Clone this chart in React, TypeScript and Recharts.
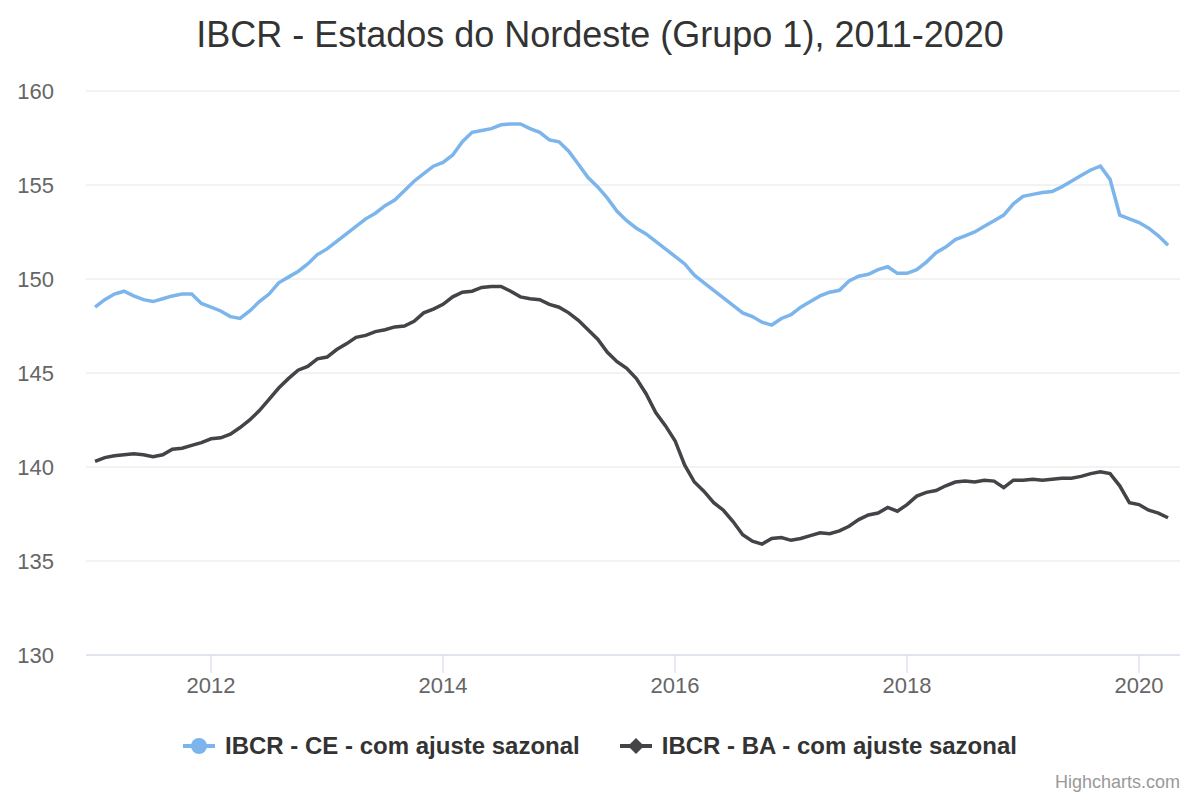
import { LineChart, Line, XAxis, YAxis, CartesianGrid } from 'recharts';

const ce = [
  148.5, 148.9, 149.2, 149.35, 149.1, 148.9, 148.8, 148.95, 149.1, 149.2, 149.2, 148.7,
  148.5, 148.3, 148.0, 147.9, 148.3, 148.8, 149.2, 149.8, 150.1, 150.4, 150.8, 151.3,
  151.6, 152.0, 152.4, 152.8, 153.2, 153.5, 153.9, 154.2, 154.7, 155.2, 155.6, 156.0,
  156.2, 156.6, 157.3, 157.8, 157.9, 158.0, 158.2, 158.25, 158.25, 158.0, 157.8, 157.4,
  157.3, 156.8, 156.1, 155.4, 154.9, 154.3, 153.6, 153.1, 152.7, 152.4, 152.0, 151.6,
  151.2, 150.8, 150.2, 149.8, 149.4, 149.0, 148.6, 148.2, 148.0, 147.7, 147.55, 147.9,
  148.1, 148.5, 148.8, 149.1, 149.3, 149.4, 149.9, 150.15, 150.25, 150.5, 150.65, 150.3,
  150.3, 150.5, 150.9, 151.4, 151.7, 152.1, 152.3, 152.5, 152.8, 153.1, 153.4, 154.0,
  154.4, 154.5, 154.6, 154.65, 154.9, 155.2, 155.5, 155.8, 156.0, 155.3, 153.4, 153.2,
  153.0, 152.7, 152.3, 151.8,
];

const ba = [
  140.3, 140.5, 140.6, 140.65, 140.7, 140.65, 140.55, 140.65, 140.95, 141.0, 141.15, 141.3,
  141.5, 141.55, 141.75, 142.1, 142.5, 143.0, 143.6, 144.2, 144.7, 145.15, 145.35, 145.75,
  145.85, 146.25, 146.55, 146.9, 147.0, 147.2, 147.3, 147.45, 147.5, 147.75, 148.2, 148.4,
  148.65, 149.05, 149.3, 149.35, 149.55, 149.6, 149.6, 149.35, 149.05, 148.95, 148.9, 148.65,
  148.5, 148.2, 147.8, 147.3, 146.8, 146.1, 145.6, 145.25, 144.7, 143.9, 142.9, 142.2,
  141.4, 140.1, 139.2, 138.7, 138.1, 137.7, 137.1, 136.4, 136.05, 135.9, 136.2, 136.25,
  136.1, 136.2, 136.35, 136.5, 136.45, 136.6, 136.85, 137.2, 137.45, 137.55, 137.85, 137.65,
  138.0, 138.45, 138.65, 138.75, 139.0, 139.2, 139.25, 139.2, 139.3, 139.25, 138.9, 139.3,
  139.3, 139.35, 139.3, 139.35, 139.4, 139.4, 139.5, 139.65, 139.75, 139.65, 139.0, 138.1,
  138.0, 137.7, 137.55, 137.3,
];

const xTicks = [2012, 2014, 2016, 2018, 2020];
const yTicks = [130, 135, 140, 145, 150, 155, 160];

const data = ce.map((v, i) => ({ t: 2011 + i / 12, ce: v, ba: ba[i] }));

const font = '"Liberation Sans", Arial, sans-serif';

export default function App() {
  return (
    <div style={{ position: 'absolute', left: 0, top: 0, width: 1200, height: 800, background: '#fff', fontFamily: font }}>
      <div style={{ position: 'absolute', top: 14, width: 1200, textAlign: 'center', fontSize: 36, color: '#333' }}>
        IBCR - Estados do Nordeste (Grupo 1), 2011-2020
      </div>
      <LineChart width={1200} height={800} data={data} margin={{ top: 91, right: 20, left: 26, bottom: 115 }}>
        <CartesianGrid vertical={false} stroke="#e6e6e6" />
        <XAxis
          dataKey="t"
          type="number"
          domain={[2010.922, 2020.353]}
          ticks={xTicks}
          allowDataOverflow
          height={30}
          stroke="#ccd6eb"
          tickSize={18}
          tickMargin={4}
          tick={{ fill: '#666', fontSize: 22, fontFamily: font }}
        />
        <YAxis
          type="number"
          domain={[130, 160]}
          ticks={yTicks}
          width={60}
          axisLine={false}
          tickLine={false}
          tickMargin={26}
          tick={{ fill: '#666', fontSize: 22, fontFamily: font }}
        />
        <Line type="linear" dataKey="ce" stroke="#7cb5ec" strokeWidth={3.5} dot={false} isAnimationActive={false} />
        <Line type="linear" dataKey="ba" stroke="#434348" strokeWidth={3.5} dot={false} isAnimationActive={false} />
      </LineChart>
      <div style={{ position: 'absolute', top: 732, width: 1200, display: 'flex', justifyContent: 'center', gap: 40, fontSize: 24, fontWeight: 'bold', color: '#333' }}>
        <span style={{ display: 'flex', alignItems: 'center', gap: 10 }}>
          <svg width={32} height={20}><line x1={0} y1={10} x2={32} y2={10} stroke="#7cb5ec" strokeWidth={4} /><circle cx={16} cy={10} r={8} fill="#7cb5ec" /></svg>
          IBCR - CE - com ajuste sazonal
        </span>
        <span style={{ display: 'flex', alignItems: 'center', gap: 10 }}>
          <svg width={32} height={20}><line x1={0} y1={10} x2={32} y2={10} stroke="#434348" strokeWidth={4} /><polygon points="16,2 24,10 16,18 8,10" fill="#434348" /></svg>
          IBCR - BA - com ajuste sazonal
        </span>
      </div>
      <div style={{ position: 'absolute', right: 20, top: 772, fontSize: 18, color: '#999' }}>Highcharts.com</div>
    </div>
  );
}
